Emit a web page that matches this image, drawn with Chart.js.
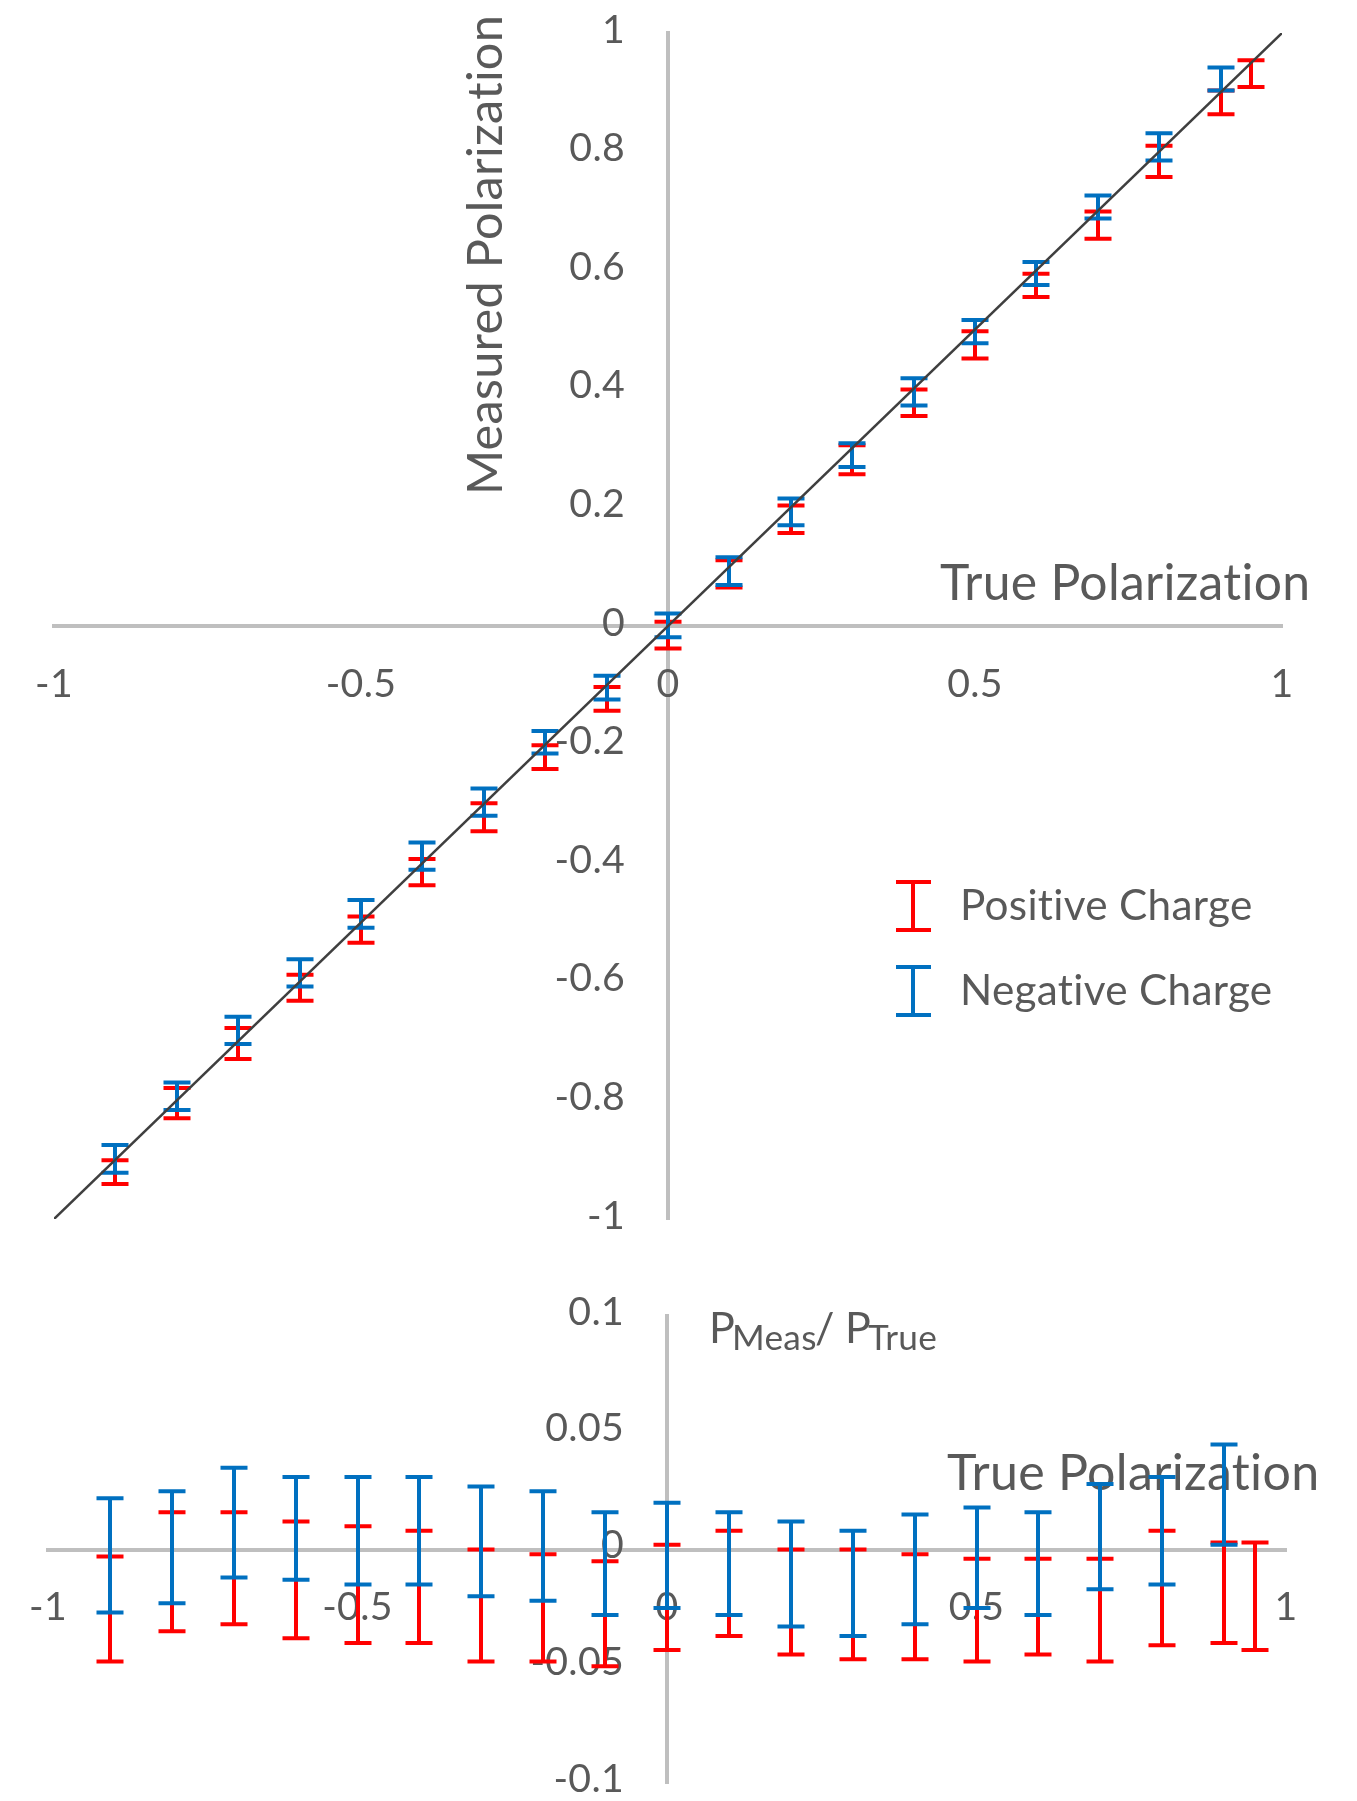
<!DOCTYPE html>
<html>
<head>
<meta charset="utf-8">
<script src="https://cdn.jsdelivr.net/npm/chart.js@4.4.0/dist/chart.umd.min.js"></script>
<style>
html,body{margin:0;padding:0;background:#ffffff;}
#wrap{position:relative;width:1357px;height:1801px;overflow:hidden;background:#fff;}
.box{position:absolute;left:0;width:1357px;}
</style>
</head>
<body>
<div id="wrap">
  <div class="box" style="top:0;height:1260px"><canvas id="topChart" width="1357" height="1260"></canvas></div>
  <div class="box" style="top:1260px;height:541px"><canvas id="botChart" width="1357" height="541"></canvas></div>
</div>
<script>
// ---------------- DATA ----------------
const seriesNames = ['Positive Charge', 'Negative Charge'];

// True polarization values (x)
const negX = [-0.9,-0.8,-0.7,-0.6,-0.5,-0.4,-0.3,-0.2,-0.1,0,0.1,0.2,0.3,0.4,0.5,0.6,0.7,0.8,0.9];
const posX = [-0.9,-0.8,-0.7,-0.6,-0.5,-0.4,-0.3,-0.2,-0.1,0,0.1,0.2,0.3,0.4,0.5,0.6,0.7,0.8,0.9,0.95];

// Top panel: measured polarization error-bar ranges
const posMeasHigh = [-0.901,-0.779,-0.678,-0.588,-0.490,-0.393,-0.299,-0.201,-0.103,0.007,0.111,0.203,0.305,0.399,0.497,0.594,0.699,0.810,0.903,0.954];
const posMeasLow  = [-0.941,-0.830,-0.730,-0.632,-0.534,-0.437,-0.346,-0.241,-0.143,-0.038,0.065,0.157,0.256,0.354,0.451,0.555,0.653,0.757,0.863,0.909];
const negMeasHigh = [-0.875,-0.770,-0.659,-0.562,-0.462,-0.365,-0.274,-0.177,-0.084,0.021,0.116,0.215,0.308,0.418,0.516,0.614,0.726,0.831,0.942];
const negMeasLow  = [-0.922,-0.816,-0.705,-0.608,-0.509,-0.411,-0.320,-0.215,-0.124,-0.019,0.069,0.170,0.268,0.372,0.477,0.575,0.687,0.785,0.903];

// Bottom panel: deviation error-bar ranges
const posDevHigh = [-0.003,0.016,0.016,0.012,0.010,0.008,0.000,-0.002,-0.005,0.002,0.008,0.000,0.000,-0.002,-0.004,-0.004,-0.004,0.008,0.003,0.003];
const posDevLow  = [-0.048,-0.035,-0.032,-0.038,-0.040,-0.040,-0.048,-0.048,-0.050,-0.043,-0.037,-0.045,-0.047,-0.047,-0.048,-0.045,-0.048,-0.041,-0.040,-0.043];
const negDevHigh = [0.022,0.025,0.035,0.031,0.031,0.031,0.027,0.025,0.016,0.020,0.016,0.012,0.008,0.015,0.018,0.016,0.028,0.031,0.045];
const negDevLow  = [-0.027,-0.023,-0.012,-0.013,-0.015,-0.015,-0.020,-0.022,-0.028,-0.025,-0.028,-0.033,-0.037,-0.032,-0.025,-0.028,-0.017,-0.015,0.002];

// Reference line y = x
const refLineX = [-1, 1];
const refLineY = [-1, 1];

// Tick labels
const topXTicks = [-1, -0.5, 0, 0.5, 1];
const topYTicks = [1, 0.8, 0.6, 0.4, 0.2, 0, -0.2, -0.4, -0.6, -0.8, -1];
const botXTicks = [-1, -0.5, 0, 0.5, 1];
const botYTicks = [0.1, 0.05, 0, -0.05, -0.1];

const topYTitle = 'Measured Polarization';
const xTitle = 'True Polarization';
const botTitleParts = ['P', 'Meas', '/ ', 'P', 'True'];

// ---------------- STYLE ----------------
const RED = '#FF0000';
const BLUE = '#0070C0';
const TXT = '#595959';
const AXIS = '#BFBFBF';
const FAM = 'Lato, "Liberation Sans", sans-serif';
const LS = '0.3px';

function fitSize(ctx, text, targetW) {
  ctx.save();
  ctx.letterSpacing = LS;
  ctx.font = '100px ' + FAM;
  const w = ctx.measureText(text).width;
  ctx.restore();
  return 100 * targetW / w;
}
function fmt(v) { return String(v); }

function mkBars(xs, lo, hi) {
  return xs.map((x, i) => ({ x: x, y: (lo[i] + hi[i]) / 2, yMin: lo[i], yMax: hi[i] }));
}

function drawErrorBars(chart) {
  const { ctx, scales: { x, y } } = chart;
  chart.data.datasets.forEach(ds => {
    if (!ds.errorBars) return;
    ctx.save();
    ctx.strokeStyle = ds.borderColor;
    ctx.lineWidth = 4;
    ctx.lineCap = 'butt';
    ds.data.forEach(p => {
      const px = Math.round(x.getPixelForValue(p.x));
      const y1 = y.getPixelForValue(p.yMax);
      const y2 = y.getPixelForValue(p.yMin);
      ctx.beginPath();
      ctx.moveTo(px, y1); ctx.lineTo(px, y2);
      ctx.moveTo(px - 13.5, y1); ctx.lineTo(px + 13.5, y1);
      ctx.moveTo(px - 13.5, y2); ctx.lineTo(px + 13.5, y2);
      ctx.stroke();
    });
    ctx.restore();
  });
}

function drawYTicks(ctx, xs, ys, ticks, size, dy) {
  ctx.font = size + 'px ' + FAM;
  ctx.textAlign = 'right';
  ctx.textBaseline = 'alphabetic';
  const ax = xs.getPixelForValue(0) - 43;
  ticks.forEach(v => ctx.fillText(fmt(v), ax, ys.getPixelForValue(v) + dy + 0.36 * size));
}
function drawXTicks(ctx, xs, ys, ticks, size, dy) {
  ctx.font = size + 'px ' + FAM;
  ctx.textAlign = 'center';
  ctx.textBaseline = 'alphabetic';
  const ay = ys.getPixelForValue(0) + dy;
  ticks.forEach(v => ctx.fillText(fmt(v), xs.getPixelForValue(v), ay + 0.36 * size));
}

const axisOpts = (pos, min, max) => ({
  type: 'linear', min: min, max: max, position: pos,
  grid: { display: false, drawTicks: false },
  border: { display: true, color: AXIS, width: 4 },
  ticks: { display: false }
});

// ---------------- TOP CHART ----------------
const topDecor = {
  id: 'topDecor',
  beforeDatasetsDraw(chart) {
    const { ctx, scales: { x, y } } = chart;
    ctx.save();
    ctx.letterSpacing = LS;
    ctx.fillStyle = TXT;
    const tickSize = fitSize(ctx, '0.05', 78);
    drawYTicks(ctx, x, y, topYTicks, tickSize, -4.5);
    drawXTicks(ctx, x, y, topXTicks, tickSize, 57);
    // y title (rotated)
    const ts = fitSize(ctx, topYTitle, 477);
    ctx.save();
    ctx.translate(502, 255);
    ctx.rotate(-Math.PI / 2);
    ctx.font = ts + 'px ' + FAM;
    ctx.textAlign = 'center';
    ctx.textBaseline = 'alphabetic';
    ctx.fillText(topYTitle, 0, 0);
    ctx.restore();
    // x title
    const xs = fitSize(ctx, xTitle, 368);
    ctx.font = xs + 'px ' + FAM;
    ctx.textAlign = 'left';
    ctx.fillText(xTitle, 940, 600);
    // legend
    const ls = fitSize(ctx, seriesNames[0], 290);
    ctx.font = ls + 'px ' + FAM;
    const legendRows = [{ c: RED, y0: 882, y1: 930, ty: 920 }, { c: BLUE, y0: 967, y1: 1015, ty: 1005 }];
    chart.data.datasets.filter(d => d.errorBars).forEach((ds, i) => {
      const r = legendRows[i];
      ctx.strokeStyle = ds.borderColor;
      ctx.lineWidth = 4;
      ctx.beginPath();
      ctx.moveTo(913, r.y0); ctx.lineTo(913, r.y1);
      ctx.moveTo(896, r.y0); ctx.lineTo(931, r.y0);
      ctx.moveTo(896, r.y1); ctx.lineTo(931, r.y1);
      ctx.stroke();
      ctx.fillStyle = TXT;
      ctx.fillText(ds.label, 960, r.ty);
    });
    drawErrorBars(chart);
    ctx.restore();
  }
};

new Chart(document.getElementById('topChart'), {
  type: 'scatter',
  data: {
    datasets: [
      { label: seriesNames[0], errorBars: true, data: mkBars(posX, posMeasLow, posMeasHigh), borderColor: RED, backgroundColor: RED, pointRadius: 0, showLine: false },
      { label: seriesNames[1], errorBars: true, data: mkBars(negX, negMeasLow, negMeasHigh), borderColor: BLUE, backgroundColor: BLUE, pointRadius: 0, showLine: false },
      { label: 'y = x', type: 'line', data: refLineX.map((v, i) => ({ x: v, y: refLineY[i] })), borderColor: '#3F3F3F', borderWidth: 2.5, pointRadius: 0, showLine: true, fill: false }
    ]
  },
  options: {
    responsive: false, animation: false, devicePixelRatio: 1,
    layout: { padding: { left: 54, right: 75, top: 33, bottom: 41 } },
    plugins: { legend: { display: false }, tooltip: { enabled: false } },
    scales: {
      x: axisOpts({ y: 0 }, -1, 1),
      y: axisOpts({ x: 0 }, -1, 1)
    }
  },
  plugins: [topDecor]
});

// ---------------- BOTTOM CHART ----------------
const botDecor = {
  id: 'botDecor',
  beforeDatasetsDraw(chart) {
    const { ctx, scales: { x, y } } = chart;
    ctx.save();
    ctx.letterSpacing = LS;
    ctx.fillStyle = TXT;
    const tickSize = fitSize(ctx, '0.05', 78);
    drawYTicks(ctx, x, y, botYTicks, tickSize, -5.5);
    drawXTicks(ctx, x, y, botXTicks, tickSize, 56);
    // x title
    const xs = fitSize(ctx, xTitle, 370);
    ctx.font = xs + 'px ' + FAM;
    ctx.textAlign = 'left';
    ctx.textBaseline = 'alphabetic';
    ctx.fillText(xTitle, 947, 1490 - 1260);
    // P_Meas / P_True
    const big = 43;
    const sub = fitSize(ctx, botTitleParts[1], 84);
    const base = 1343 - 1260;
    ctx.font = big + 'px ' + FAM;
    ctx.fillText(botTitleParts[0], 709, base);
    ctx.font = sub + 'px ' + FAM;
    ctx.fillText(botTitleParts[1], 732, base + 7);
    ctx.font = big + 'px ' + FAM;
    ctx.fillText(botTitleParts[2], 815, base);
    ctx.fillText(botTitleParts[3], 845, base);
    ctx.font = sub + 'px ' + FAM;
    ctx.fillText(botTitleParts[4], 868, base + 7);
    drawErrorBars(chart);
    ctx.restore();
  }
};

new Chart(document.getElementById('botChart'), {
  type: 'scatter',
  data: {
    datasets: [
      { label: seriesNames[0], errorBars: true, data: mkBars(posX, posDevLow, posDevHigh), borderColor: RED, backgroundColor: RED, pointRadius: 0, showLine: false },
      { label: seriesNames[1], errorBars: true, data: mkBars(negX, negDevLow, negDevHigh), borderColor: BLUE, backgroundColor: BLUE, pointRadius: 0, showLine: false }
    ]
  },
  options: {
    responsive: false, animation: false, devicePixelRatio: 1,
    layout: { padding: { left: 48, right: 71, top: 56, bottom: 18 } },
    plugins: { legend: { display: false }, tooltip: { enabled: false } },
    scales: {
      x: axisOpts({ y: 0 }, -1, 1),
      y: axisOpts({ x: 0 }, -0.1, 0.1)
    }
  },
  plugins: [botDecor]
});
</script>
</body>
</html>
